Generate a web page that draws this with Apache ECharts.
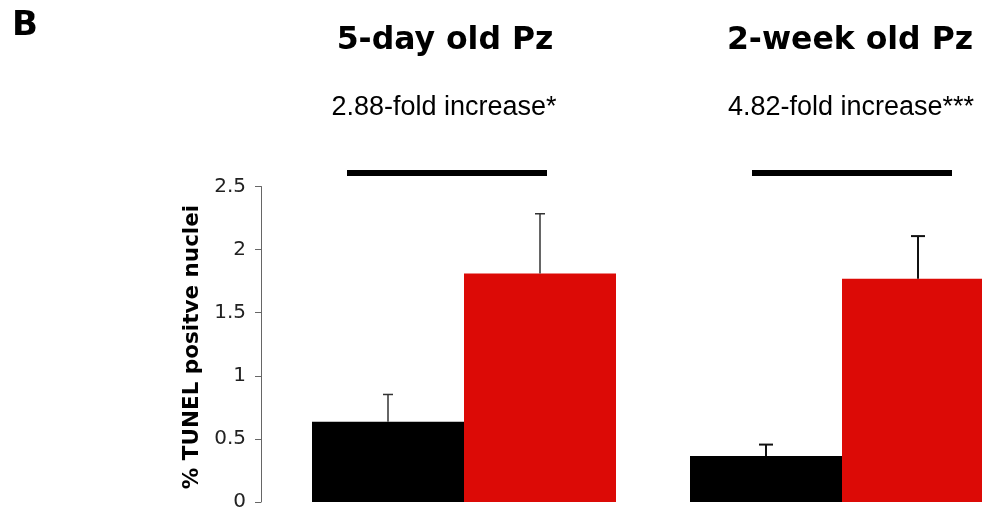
<!DOCTYPE html>
<html>
<head>
<meta charset="utf-8">
<script src="https://cdn.jsdelivr.net/npm/echarts@6/dist/echarts.min.js"></script>
<style>
  html, body { margin: 0; padding: 0; background: #fff; }
  #chart { width: 982px; height: 512px; }
</style>
</head>
<body>
<div id="chart"></div>
<script>
const categories = ['5-day old Pz', '2-week old Pz'];
const foldLabels = ['2.88-fold increase*', '4.82-fold increase***'];
const controlMeans = [0.635, 0.365];
const controlErr = [0.217, 0.09];
const treatedMeans = [1.81, 1.77];
const treatedErr = [0.474, 0.337];
const panelLetter = 'B';
const yAxisTitle = '% TUNEL positve nuclei';

const BAR_W = 152;
const capW = [10, 14];
const errLineW = [1.5, 2];
const errColor = ['#333', '#111'];

const chart = echarts.init(document.getElementById('chart'), null, { renderer: 'canvas' });

function errRender(sign) {
  return function (params, api) {
    const i = api.value(0);
    const mean = api.value(1);
    const err = api.value(2);
    const base = api.coord([i, mean]);
    const top = api.coord([i, mean + err]);
    const x = base[0] + sign * BAR_W / 2;
    const style = { stroke: errColor[i], lineWidth: errLineW[i] };
    return {
      type: 'group',
      children: [
        { type: 'line', shape: { x1: x, y1: base[1], x2: x, y2: top[1] }, style: style },
        { type: 'line', shape: { x1: x - capW[i] / 2, y1: top[1], x2: x + capW[i] / 2, y2: top[1] }, style: style }
      ]
    };
  };
}

const titleX = [445, 850];
const graphics = [
  { type: 'text', x: 12, y: 26, style: { text: panelLetter, font: 'bold 34px "DejaVu Sans"', fill: '#000', align: 'left', verticalAlign: 'middle' } },
  { type: 'text', x: 192, y: 347, rotation: Math.PI / 2, style: { text: yAxisTitle, font: 'bold 21.5px "DejaVu Sans"', fill: '#000', align: 'center', verticalAlign: 'middle' } }
];
categories.forEach((c, i) => {
  graphics.push({ type: 'text', x: titleX[i], y: 41, style: { text: c, font: 'bold 31.5px "DejaVu Sans"', fill: '#000', align: 'center', verticalAlign: 'middle' } });
  graphics.push({ type: 'text', x: [444, 851][i], y: 108, style: { text: foldLabels[i], font: '27px "Liberation Sans"', fill: '#000', align: 'center', verticalAlign: 'middle' } });
  graphics.push({ type: 'rect', shape: { x: [347, 752][i], y: 170, width: 200, height: 6 }, style: { fill: '#000' } });
});

// category positions on a numeric x scale: group i sits at x = i
const xPos = categories.map((c, i) => i);

chart.setOption({
  animation: false,
  backgroundColor: '#fff',
  grid: { left: 275, top: 186.5, right: 0, bottom: 8.5 },
  xAxis: {
    type: 'value',
    min: -0.5,
    max: -0.5 + 707 / 378,
    show: false,
    splitLine: { show: false }
  },
  yAxis: {
    type: 'value',
    min: 0,
    max: 2.5,
    interval: 0.5,
    offset: 14,
    axisLine: { show: true, onZero: false, lineStyle: { color: '#666', width: 1 } },
    axisTick: { show: true, length: 6, lineStyle: { color: '#666', width: 1 } },
    axisLabel: { fontFamily: 'DejaVu Sans', fontSize: 20, color: '#222', margin: 15 },
    splitLine: { show: false }
  },
  series: [
    { type: 'bar', name: 'control', data: controlMeans.map((m, i) => [xPos[i], m]), barWidth: BAR_W, barGap: '0%', itemStyle: { color: '#000' }, z: 2 },
    { type: 'bar', name: 'treated', data: treatedMeans.map((m, i) => [xPos[i], m]), barWidth: BAR_W, barGap: '0%', itemStyle: { color: '#dc0a06' }, z: 2 },
    { type: 'custom', renderItem: errRender(-1), data: controlMeans.map((m, i) => [xPos[i], m, controlErr[i]]), encode: { x: 0, y: 1 }, z: 5, clip: false },
    { type: 'custom', renderItem: errRender(1), data: treatedMeans.map((m, i) => [xPos[i], m, treatedErr[i]]), encode: { x: 0, y: 1 }, z: 5, clip: false }
  ],
  graphic: graphics
});
</script>
</body>
</html>
